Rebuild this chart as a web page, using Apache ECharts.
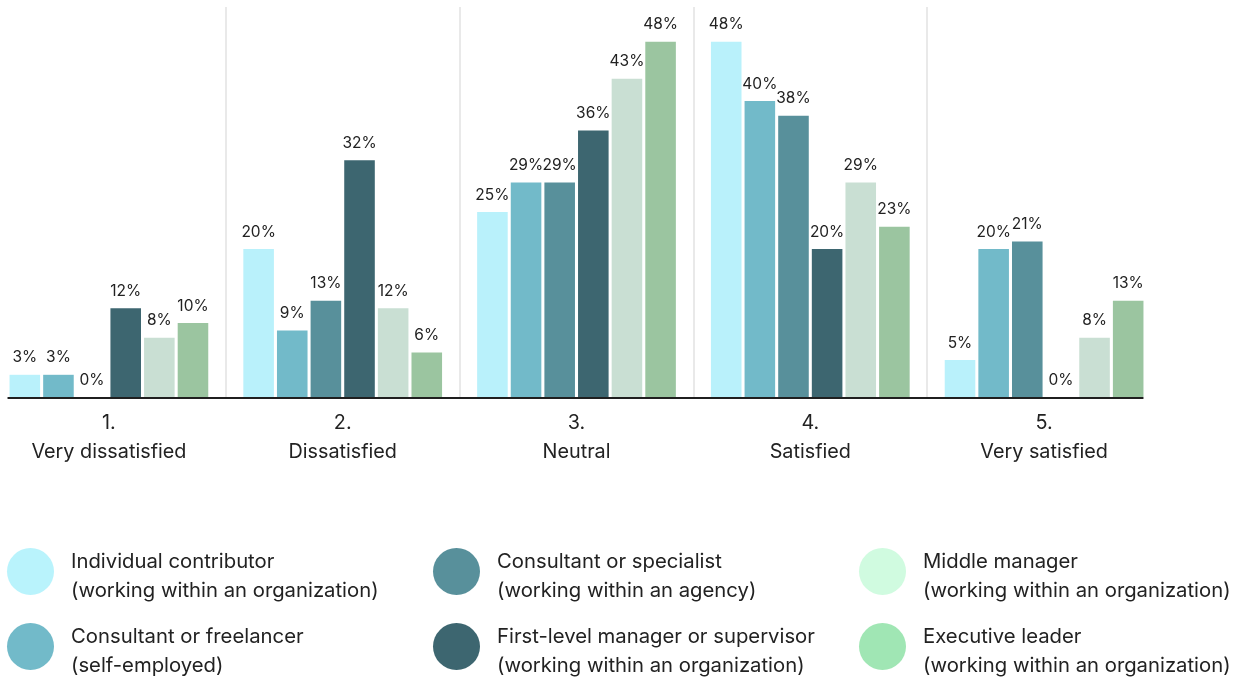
<!DOCTYPE html>
<html>
<head>
<meta charset="utf-8">
<script src="https://cdn.jsdelivr.net/npm/echarts@6/dist/echarts.min.js"></script>
<style>
  html, body { margin: 0; padding: 0; background: #ffffff; overflow: hidden; }
  /* the plot's first category band starts slightly left of the page edge */
  #chart { width: 1256px; height: 678px; margin-left: -8px; }
</style>
</head>
<body>
<div id="chart"></div>
<script>
// Satisfaction levels (tick labels: number + name)
const levelNumbers = ['1.', '2.', '3.', '4.', '5.'];
const levelNames = ['Very dissatisfied', 'Dissatisfied', 'Neutral', 'Satisfied', 'Very satisfied'];

// Respondent roles
const roleTitles = [
  'Individual contributor',
  'Consultant or freelancer',
  'Consultant or specialist',
  'First-level manager or supervisor',
  'Middle manager',
  'Executive leader'
];
const roleNotes = [
  '(working within an organization)',
  '(self-employed)',
  '(working within an agency)',
  '(working within an organization)',
  '(working within an organization)',
  '(working within an organization)'
];

// Share of respondents (%) per satisfaction level
const individualContributor = [3, 20, 25, 48, 5];
const consultantFreelancer = [3, 9, 29, 40, 20];
const consultantSpecialist = [0, 13, 29, 38, 21];
const firstLevelManager = [12, 32, 36, 20, 0];
const middleManager = [8, 12, 43, 29, 8];
const executiveLeader = [10, 6, 48, 23, 13];

const seriesValues = [
  individualContributor, consultantFreelancer, consultantSpecialist,
  firstLevelManager, middleManager, executiveLeader
];

const barColors = ['#b9f1fb', '#72bac9', '#58909b', '#3d6670', '#c9dfd3', '#9bc5a0'];
const legendColors = ['#b9f3fc', '#72bac9', '#58909b', '#3d6670', '#d0fbe0', '#a0e6b4'];

const FONT = 'Inter, "Noto Sans", sans-serif';
const categories = levelNumbers.map((n, i) => n + '\n' + levelNames[i]);
const roleLabels = roleTitles.map((t, i) => t + '\n' + roleNotes[i]);

const chart = echarts.init(document.getElementById('chart'), null, { renderer: 'canvas' });

const series = seriesValues.map((vals, i) => ({
  name: roleLabels[i],
  type: 'bar',
  data: vals,
  barGap: '10%',
  barCategoryGap: '15%',
  itemStyle: { color: barColors[i] },
  label: {
    show: true,
    position: 'top',
    distance: 9,
    formatter: '{c}%',
    fontFamily: FONT,
    fontSize: 15.5,
    color: '#222222'
  },
  emphasis: { disabled: true }
}));

// Legend: three columns of two entries, one legend block per entry.
// A thin spacer line on top sets the two text lines slightly below the dot's centre.
const legendLefts = [10, 10, 436, 436, 862, 862];
const legendTops = [537, 612, 537, 612, 537, 612];
const legends = roleLabels.map((name, i) => ({
  orient: 'vertical',
  left: legendLefts[i],
  top: legendTops[i],
  icon: 'circle',
  itemWidth: 47,
  itemHeight: 47,
  selectedMode: false,
  data: [{ name: name, itemStyle: { color: legendColors[i] } }],
  formatter: () => '{s| }\n{t|' + roleTitles[i] + '}\n{t|' + roleNotes[i] + '}',
  textStyle: {
    fontFamily: FONT,
    fontSize: 20.3,
    color: '#222222',
    padding: [0, 0, 0, 12],
    rich: {
      s: { fontSize: 1, lineHeight: 10 },
      t: { fontFamily: FONT, fontSize: 20.3, lineHeight: 29, color: '#222222' }
    }
  }
}));

chart.setOption({
  animation: false,
  backgroundColor: '#ffffff',
  grid: { left: 0, right: 87, top: 7, bottom: 281, containLabel: false },
  legend: legends,
  xAxis: {
    type: 'category',
    data: categories,
    axisLine: { show: false },
    axisTick: { show: false },
    axisLabel: {
      margin: 12,
      fontFamily: FONT,
      fontSize: 19.8,
      lineHeight: 29,
      color: '#222222'
    },
    splitLine: {
      show: true,
      showMinLine: false,
      showMaxLine: false,
      lineStyle: { color: '#e2e2e2', width: 1.5 }
    }
  },
  yAxis: {
    type: 'value',
    min: 0,
    max: 52.7,
    show: false,
    splitLine: { show: false }
  },
  series: series
});

// Baseline under the bar groups, spanning from the first bar to the last bar
function drawBaseline() {
  const y0 = chart.convertToPixel({ gridIndex: 0 }, [0, 0])[1];
  const c0 = chart.convertToPixel({ gridIndex: 0 }, [0, 0])[0];
  const c4 = chart.convertToPixel({ gridIndex: 0 }, [levelNames.length - 1, 0])[0];
  const band = (c4 - c0) / (levelNames.length - 1);
  const half = band * 0.85 / 2;
  chart.setOption({
    graphic: [{
      type: 'line',
      silent: true,
      z: 10,
      shape: { x1: c0 - half - 2, y1: y0 + 1, x2: c4 + half, y2: y0 + 1 },
      style: { stroke: '#1f1f1f', lineWidth: 2 }
    }]
  });
}
drawBaseline();
</script>
</body>
</html>
